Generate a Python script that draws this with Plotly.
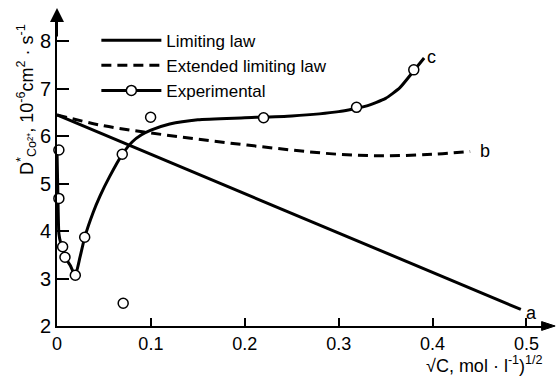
import plotly.graph_objects as go

# ---- data ----
lim_x = [0.0, 0.494]
lim_y = [6.45, 2.35]

ext_x = [0.0, 0.05, 0.1, 0.15, 0.2, 0.25, 0.3, 0.35, 0.4, 0.44]
ext_y = [6.45, 6.22, 6.07, 5.94, 5.82, 5.71, 5.62, 5.59, 5.62, 5.68]

exp_curve_x = [0.0, 0.001, 0.002, 0.004, 0.006, 0.0085, 0.014, 0.0195, 0.0245, 0.0295,
               0.0386, 0.046, 0.056, 0.0695, 0.08, 0.09, 0.1, 0.12, 0.15, 0.2, 0.25,
               0.3, 0.33, 0.35, 0.365, 0.38, 0.391]
exp_curve_y = [5.7, 4.7, 3.95, 3.75, 3.67, 3.45, 3.28, 3.07, 3.45, 3.87,
               4.4, 4.75, 5.15, 5.62, 5.88, 6.03, 6.13, 6.26, 6.35, 6.39, 6.43,
               6.52, 6.64, 6.8, 7.02, 7.38, 7.65]

exp_pts_x = [0.002, 0.002, 0.006, 0.0085, 0.0195, 0.0295, 0.0705, 0.0695, 0.0997, 0.22, 0.319, 0.38]
exp_pts_y = [5.71, 4.69, 3.67, 3.45, 3.07, 3.87, 2.48, 5.62, 6.40, 6.39, 6.61, 7.40]

x_ticks = [0, 0.1, 0.2, 0.3, 0.4, 0.5]
x_tick_labels = ["0", "0.1", "0.2", "0.3", "0.4", "0.5"]
y_ticks = [2, 3, 4, 5, 6, 7, 8]
y_tick_labels = ["2", "3", "4", "5", "6", "7", "8"]

curve_labels = ["a", "b", "c"]
curve_label_x = [0.505, 0.456, 0.399]
curve_label_y = [2.27, 5.69, 7.68]

X_MAX = 0.524
Y_MAX = 8.62

FONT = "Liberation Sans"
BLACK = "black"

fig = go.Figure()

fig.add_trace(go.Scatter(x=lim_x, y=lim_y, mode="lines", name="Limiting law",
                         line=dict(color=BLACK, width=3)))
fig.add_trace(go.Scatter(x=ext_x, y=ext_y, mode="lines", name="Extended limiting law",
                         line=dict(color=BLACK, width=3, dash="10px,6px", shape="spline")))
# legend-only entry for experimental
fig.add_trace(go.Scatter(x=[None], y=[None], mode="lines+markers", name="Experimental",
                         line=dict(color=BLACK, width=3),
                         marker=dict(symbol="circle", size=10, color="white",
                                     line=dict(color=BLACK, width=1.5))))
fig.add_trace(go.Scatter(x=exp_curve_x, y=exp_curve_y, mode="lines", showlegend=False,
                         line=dict(color=BLACK, width=3, shape="spline", smoothing=0.5)))
fig.add_trace(go.Scatter(x=exp_pts_x, y=exp_pts_y, mode="markers", showlegend=False,
                         marker=dict(symbol="circle", size=10, color="white",
                                     line=dict(color=BLACK, width=1.5)),
                         cliponaxis=False))

for t, lx, ly in zip(curve_labels, curve_label_x, curve_label_y):
    fig.add_annotation(x=lx, y=ly, text=t, showarrow=False,
                       font=dict(family=FONT, size=18, color=BLACK),
                       xanchor="center", yanchor="middle")

# y-axis arrow
fig.add_annotation(x=0, y=1.013, xref="paper", yref="paper", ax=0, ay=30,
                   axref="pixel", ayref="pixel", text="",
                   showarrow=True, arrowhead=2, arrowsize=1.4, arrowwidth=2, arrowcolor=BLACK)
# x-axis arrowhead (decorative triangle in paper units)
fig.add_shape(type="path", xref="paper", yref="paper",
              path="M 0.985 -0.014 L 1.0125 0 L 0.985 0.014 Z",
              fillcolor=BLACK, line=dict(color=BLACK, width=1), layer="above")

# axis titles
fig.add_annotation(x=-0.061, y=0.723, xref="paper", yref="paper",
                   text="D<sup>*</sup><sub>Co²⁺</sub>, 10<sup>-6</sup>cm<sup>2</sup> · s<sup>-1</sup>",
                   textangle=-90, showarrow=False, xanchor="center", yanchor="middle",
                   font=dict(family=FONT, size=18, color=BLACK))
fig.add_annotation(x=0.992, y=-0.122, xref="paper", yref="paper",
                   text="√C, mol · l<sup>-1</sup>)<sup>1/2</sup>",
                   showarrow=False, xanchor="right", yanchor="middle",
                   font=dict(family=FONT, size=18, color=BLACK))

fig.update_layout(
    width=556, height=378,
    margin=dict(l=57, r=7, t=12, b=52),
    paper_bgcolor="white", plot_bgcolor="white",
    showlegend=True,
    legend=dict(x=0.08, y=0.966, xanchor="left", yanchor="top",
                bgcolor="rgba(0,0,0,0)", font=dict(family=FONT, size=17, color=BLACK),
                itemwidth=60, tracegroupgap=0),
    font=dict(family=FONT, color=BLACK),
)
fig.update_xaxes(range=[0, X_MAX], tickvals=x_ticks, ticktext=x_tick_labels,
                 showgrid=False, zeroline=False, showline=True, linecolor=BLACK, linewidth=2,
                 ticks="inside", ticklen=8, tickwidth=1.5, tickcolor=BLACK,
                 tickfont=dict(family=FONT, size=18, color=BLACK))
fig.update_yaxes(range=[2, Y_MAX], tickvals=y_ticks, ticktext=y_tick_labels,
                 showgrid=False, zeroline=False, showline=True, linecolor=BLACK, linewidth=2,
                 ticks="inside", ticklen=12, tickwidth=1.5, tickcolor=BLACK,
                 tickfont=dict(family=FONT, size=20, color=BLACK))

fig.write_html("out.html", config={"displayModeBar": False},
               post_script="document.body.style.margin='0';"
                           "document.body.style.overflow='hidden';"
                           "document.documentElement.style.overflow='hidden';")
